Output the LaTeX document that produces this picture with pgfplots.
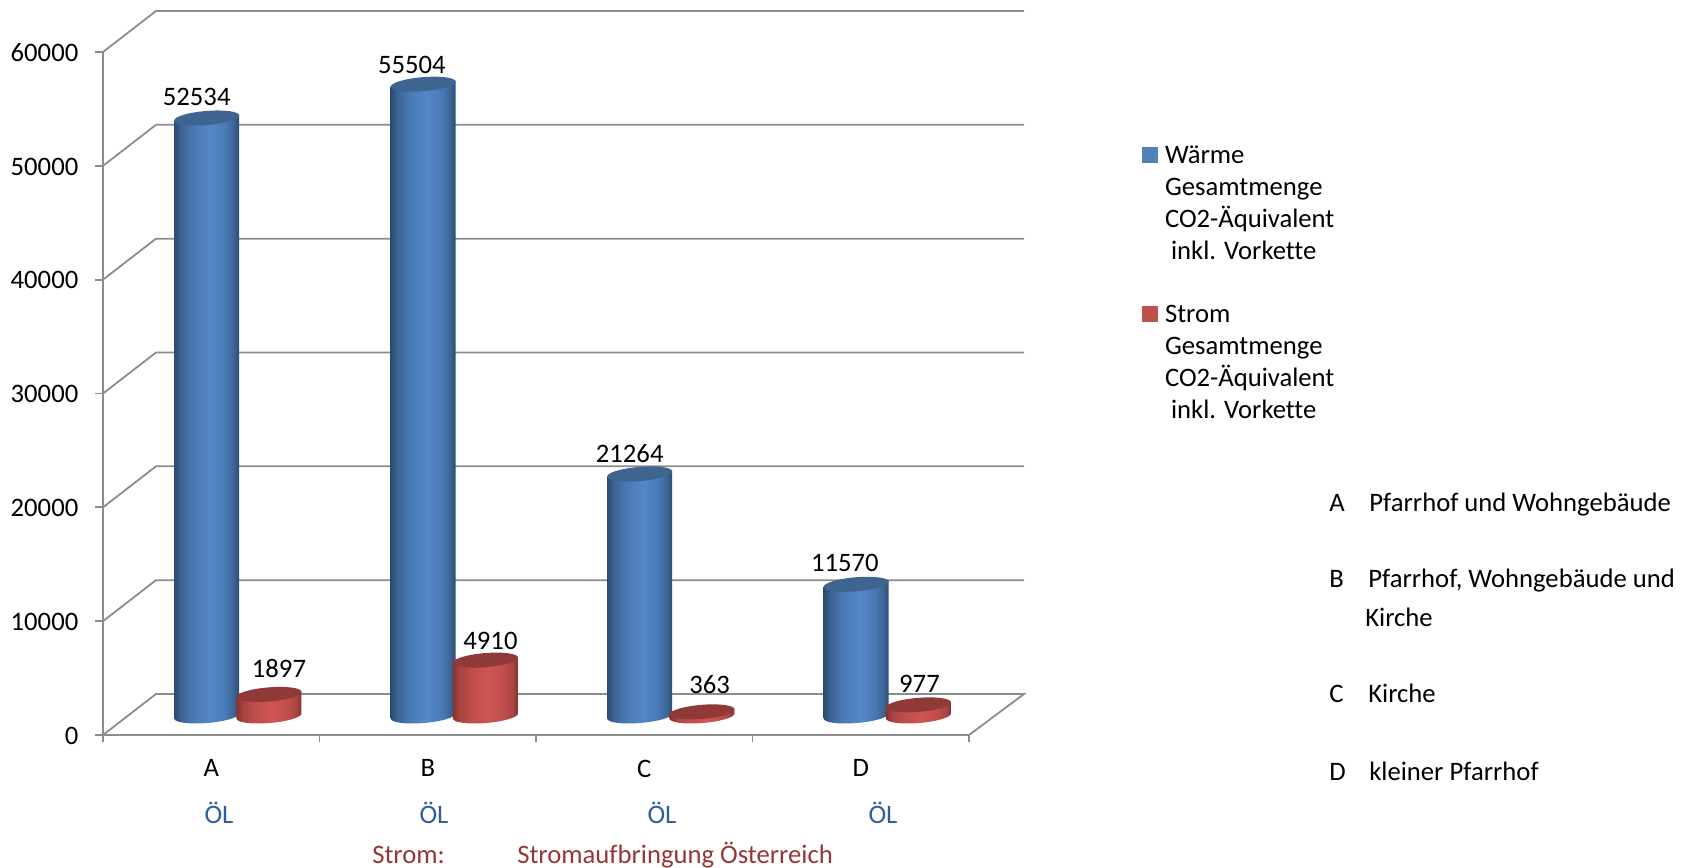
\documentclass[border=0pt]{standalone}
\usepackage{pgfplots}
\usepackage{pgfplotstable}
\usepackage{fontspec}
\pgfplotsset{compat=1.18}
\setmainfont{Carlito}[Ligatures=NoCommon]

\definecolor{gridgray}{HTML}{8C8C8C}
\definecolor{wblue}{HTML}{4F81BD}
\definecolor{sred}{HTML}{C0504D}
\definecolor{capblue}{HTML}{3D6590}
\definecolor{capred}{HTML}{8F3A38}
\definecolor{oeltext}{HTML}{2F5F9B}
\definecolor{stromtext}{HTML}{953735}
\definecolor{cylbluemid}{HTML}{5587C8}
\definecolor{cylbluedark}{HTML}{2C4B70}
\definecolor{cylbluelow}{HTML}{3C6493}
\definecolor{cylbluehigh}{HTML}{4A7AB5}
\definecolor{cylredmid}{HTML}{D05552}
\definecolor{cylreddark}{HTML}{853230}
\definecolor{cylredlow}{HTML}{A84543}
\definecolor{cylredhigh}{HTML}{BF4E4B}

% horizontal shadings for the cylinder bodies (TikZ fits a path to the span 25bp-75bp)
\pgfdeclarehorizontalshading{cylblue}{100bp}{
  color(0bp)=(cylbluedark); color(25bp)=(cylbluedark); color(30bp)=(cylbluelow); color(40bp)=(cylbluehigh);
  color(52.5bp)=(cylbluemid); color(64bp)=(cylbluehigh); color(71bp)=(cylbluelow);
  color(75bp)=(cylbluedark); color(100bp)=(cylbluedark)}
\pgfdeclarehorizontalshading{cylred}{100bp}{
  color(0bp)=(cylreddark); color(25bp)=(cylreddark); color(30bp)=(cylredlow); color(40bp)=(cylredhigh);
  color(52.5bp)=(cylredmid); color(64bp)=(cylredhigh); color(71bp)=(cylredlow);
  color(75bp)=(cylreddark); color(100bp)=(cylreddark)}

% tilted ellipses closing the cylinders at the top
\newcommand\cylellipse{\pgfpathellipse{\pgfpointorigin}{\pgfpoint{24.4pt}{1.9pt}}{\pgfpoint{0pt}{5.3pt}}}
\pgfdeclareplotmark{capw}{\cylellipse\pgfsetfillcolor{capblue}\pgfusepathqfill}
\pgfdeclareplotmark{caps}{\cylellipse\pgfsetfillcolor{capred}\pgfusepathqfill}

\pgfplotstableread{
x   val   dx    dy
0.5 52534 -7.5  15.75
1.5 55504 -8.5  14.75
2.5 21264 -7.5  15.5
3.5 11570 -8.5  16
}\waerme
\pgfplotstableread{
x   val   dx    dy
0.5 1897  7.5   19.5
1.5 4910  3.75  14.5
2.5 363   5.75  20.75
3.5 977   0.75  16
}\strom

% side view of a cylinder of unit height: lower rim, then the two top corners
\pgfplotstableread{
c      s      h
-1     0      0
-.9808 -.1951 0
-.9239 -.3827 0
-.8315 -.5556 0
-.7071 -.7071 0
-.5556 -.8315 0
-.3827 -.9239 0
-.1951 -.9808 0
0      -1     0
.1951  -.9808 0
.3827  -.9239 0
.5556  -.8315 0
.7071  -.7071 0
.8315  -.5556 0
.9239  -.3827 0
.9808  -.1951 0
1      0      0
1      0      1
-1     0      1
}\cyloutline

% #1 category position, #2 value, #3 shading, #4 shift style
\newcommand\cylinder[4]{%
  \addplot[forget plot,shade,shading=#3,draw=none,#4]
    table[x expr={#1+0.1501*\thisrow{c}},
          y expr={#2*\thisrow{h}+220*\thisrow{c}+621*\thisrow{s}}] {\cyloutline};
}

\pgfplotsset{
  wshift/.style={xshift=-3.4pt,yshift=14.25pt},
  sshift/.style={xshift=43.3pt,yshift=14.25pt},
  back/.style={gridgray,line width=1.35pt,forget plot},
  valuelabels/.style={forget plot,only marks,mark=none,
    visualization depends on=\thisrow{dx}\as\dx,
    visualization depends on=\thisrow{dy}\as\dy,
    point meta=explicit,
    nodes near coords,
    every node near coord/.append style={anchor=center,font=\labelfont,text=black,
      xshift=\dx pt,yshift=\dy pt,
      /pgf/number format/1000 sep={},/pgf/number format/fixed,/pgf/number format/precision=0,
      /pgf/number format/assume math mode=true}},
}
\newcommand\labelfont{\fontsize{20}{24}\selectfont}

\begin{document}
\begin{tikzpicture}
\useasboundingbox (0,1.5pt) rectangle (1267.5pt,651.75pt);
\begin{axis}[
  at={(77.25pt,100.5pt)},anchor=south west,
  scale only axis,width=649.5pt,height=512.25pt,
  xmin=0,xmax=4,ymin=0,ymax=60000,clip=false,
  axis x line=bottom,axis y line=left,
  axis line style={-,gridgray,line width=1.35pt},
  tick style={gridgray,line width=1.35pt},
  tick align=outside,
  ytick={0,10000,20000,30000,40000,50000,60000},
  scaled y ticks=false,
  xtick={0.5,1.5,2.5,3.5},xticklabels={A,B,C,D},
  minor xtick={0,1,2,3,4},
  major tick length=6pt,minor tick length=5.5pt,
  x tick style={draw=none},
  minor x tick style={gridgray,line width=1.35pt,draw=gridgray},
  y tick label style={font=\labelfont,/pgf/number format/1000 sep={},
    /pgf/number format/fixed,
    /pgf/number format/assume math mode=true,xshift=-9pt,yshift=-0.5pt},
  x tick label style={font=\labelfont,yshift=-9pt},
  legend style={at={(axis cs:4.80,51750)},anchor=north west,draw=none,fill=none,
    row sep=34pt,inner sep=0pt,
    nodes={align=left,font=\labelfont,inner sep=0pt,text depth=0pt}},
  legend cell align=left,
]
% side and back wall grid lines
\addplot[back] coordinates {(0,0)     (0.2448,3602)  (4.254,3602)  (4,0)};
\addplot[back] coordinates {(0,10000) (0.2448,13602) (4.254,13602)};
\addplot[back] coordinates {(0,20000) (0.2448,23602) (4.254,23602)};
\addplot[back] coordinates {(0,30000) (0.2448,33602) (4.254,33602)};
\addplot[back] coordinates {(0,40000) (0.2448,43602) (4.254,43602)};
\addplot[back] coordinates {(0,50000) (0.2448,53602) (4.254,53602)};
\addplot[back] coordinates {(0,60000) (0.2448,63602) (4.254,63602)};

% heat series
\cylinder{0.5}{52534}{cylblue}{wshift}
\cylinder{1.5}{55504}{cylblue}{wshift}
\cylinder{2.5}{21264}{cylblue}{wshift}
\cylinder{3.5}{11570}{cylblue}{wshift}

% electricity series
\cylinder{0.5}{1897}{cylred}{sshift}
\cylinder{1.5}{4910}{cylred}{sshift}
\cylinder{2.5}{363}{cylred}{sshift}
\cylinder{3.5}{977}{cylred}{sshift}

% cylinder tops
\addplot[forget plot,only marks,mark=capw,wshift] table[x=x,y=val] {\waerme};
\addplot[forget plot,only marks,mark=caps,sshift] table[x=x,y=val] {\strom};

% value labels above the cylinders
\addplot[valuelabels,wshift] table[x=x,y=val,meta=val] {\waerme};
\addplot[valuelabels,sshift] table[x=x,y=val,meta=val] {\strom};

% legend swatches sit beside the first line; the empty path widens the cell up to the text
\addlegendimage{legend image code/.code={\fill[wblue] (0pt,30.75pt) rectangle (11.25pt,42pt);\path (16.5pt,36pt);}}
\addlegendentry{Wärme\\Gesamtmenge\\CO2-Äquivalent\\\ inkl. Vorkette}
\addlegendimage{legend image code/.code={\fill[sred] (0pt,30.75pt) rectangle (11.25pt,42pt);\path (16.5pt,36pt);}}
\addlegendentry{Strom\\Gesamtmenge\\CO2-Äquivalent\\\ inkl. Vorkette}
\end{axis}

\begin{scope}[x=0.75pt,y=-0.75pt,yshift=651.75pt,
    every node/.style={anchor=base west,inner sep=0pt,font=\labelfont}]
  % fuel captions under the categories
  \node[anchor=base,text=oeltext] at (219,823) {ÖL};
  \node[anchor=base,text=oeltext] at (434,823) {ÖL};
  \node[anchor=base,text=oeltext] at (662,823) {ÖL};
  \node[anchor=base,text=oeltext] at (883,823) {ÖL};
  \node[text=stromtext] at (372,863) {Strom:};
  \node[text=stromtext] at (517,863) {Stromaufbringung Österreich};
  % key to the building variants
  \node at (1329,512) {A}; \node at (1369,512) {Pfarrhof und Wohngebäude};
  \node at (1329,588) {B}; \node at (1368,588) {Pfarrhof, Wohngebäude und};
  \node at (1365,627) {Kirche};
  \node at (1329,703) {C}; \node at (1368,703) {Kirche};
  \node at (1329,780) {D}; \node at (1369,780) {kleiner Pfarrhof};
\end{scope}
\end{tikzpicture}
\end{document}
